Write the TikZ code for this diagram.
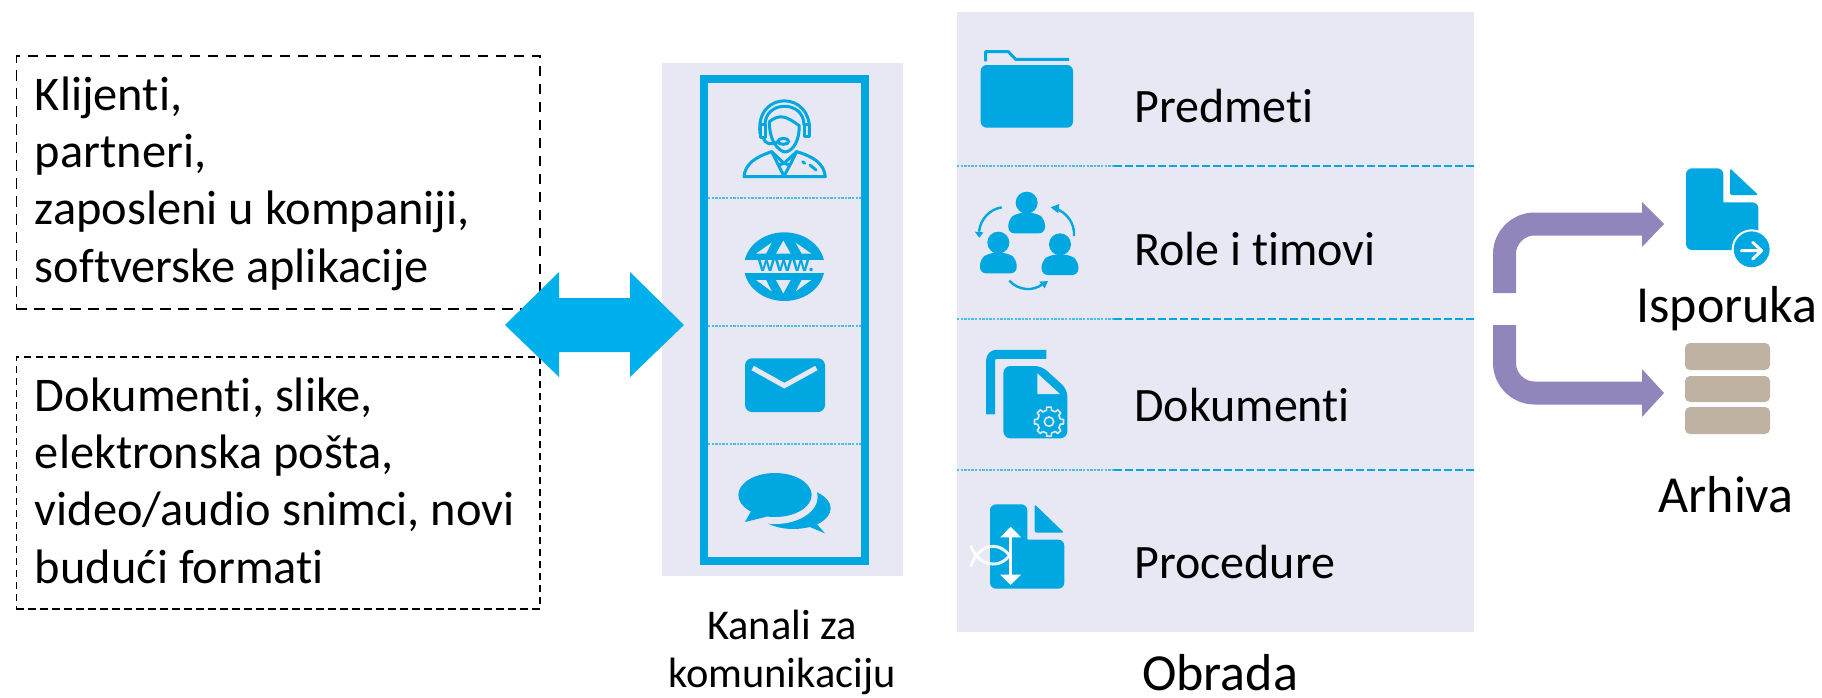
\documentclass[tikz,border=0pt]{standalone}
\usepackage{fontspec}
\setmainfont{Carlito}[Ligatures=CommonOff]
\definecolor{iconblue}{HTML}{00A7E1}
\definecolor{arrowblue}{HTML}{00B0EC}
\definecolor{panel}{HTML}{E8E8F4}
\definecolor{purplearrow}{HTML}{9285BC}
\definecolor{stonebar}{HTML}{BFB2A2}
\definecolor{dotblue}{HTML}{4DBCE8}
\tikzset{
  dashbox/.style={draw=black,line width=0.9pt,dash pattern=on 5.3pt off 3.7pt},
  dashboxfine/.style={draw=black,line width=0.9pt,dash pattern=on 3.7pt off 2.3pt},
  bigtext/.style={inner sep=0pt,anchor=north west,align=left,font=\fontsize{24.2}{28.6}\selectfont},
  rowtext/.style={inner sep=0pt,anchor=base west,font=\fontsize{24}{28}\selectfont},
  endtext/.style={inner sep=0pt,anchor=base,font=\fontsize{26}{30}\selectfont},
  smalltext/.style={inner sep=0pt,anchor=base,font=\fontsize{21.2}{25}\selectfont},
  dotline/.style={draw=dotblue,line width=1.2pt,dash pattern=on 1.2pt off 0.6pt},
  dashline/.style={draw=iconblue,line width=1.1pt,dash pattern=on 4pt off 1.5pt},
  iconline/.style={draw=iconblue,line width=1.5pt,line cap=round,line join=round},
  flow/.style={draw=purplearrow,line width=11.5pt,rounded corners=15pt},
  flowhead/.style={fill=purplearrow,draw=none},
  stack/.style={fill=stonebar,draw=none,rounded corners=2.5pt}
}
\begin{document}
\begin{tikzpicture}[x=0.5pt,y=-0.5pt]
\useasboundingbox (0,0) rectangle (1822,697);

% left boxes
\node[dashbox,minimum width=261.75pt,minimum height=126.5pt,inner sep=0pt,anchor=north west] (people) at (15.5,55) {};
\node[dashboxfine,minimum width=261.75pt,minimum height=126pt,inner sep=0pt,anchor=north west] (formats) at (15.5,356) {};
\node[bigtext] (peopletext) at (34.5,76.5) {Klijenti,\\partneri,\\zaposleni u kompaniji,\\softverske aplikacije};
\node[bigtext] (formatstext) at (34.5,377.5) {Dokumenti, slike,\\elektronska pošta,\\video/audio snimci, novi\\budući formati};

% panels
\node[fill=panel,minimum width=120.5pt,minimum height=256.5pt,inner sep=0pt,anchor=north west] (channels) at (662,63) {};
\node[fill=panel,minimum width=258.5pt,minimum height=310pt,inner sep=0pt,anchor=north west] (work) at (957,12) {};

% double arrow
\fill[arrowblue] (505,325) -- (559,272) -- (559,298) -- (630,298) -- (630,272) -- (684,325) -- (630,377) -- (630,352) -- (559,352) -- (559,377) -- cycle;

% channel frame
\draw[iconblue,line width=4pt] (704,79) rectangle (865,561);
\draw[dotline] (708,198) -- (861,198);
\draw[dotline] (708,326) -- (861,326);
\draw[dotline] (708,444) -- (861,444);

% agent icon
\begin{scope}[shift={(650,50)},scale=1/3]
  \draw[iconline] (330,250) .. controls (315,120) and (490,120) .. (478,250);
  \draw[iconline] (345,225) .. controls (345,150) and (462,150) .. (462,225);
  \draw[iconline] (358,215) .. controls (390,190) and (410,200) .. (445,225) (358,215) .. controls (358,290) and (400,310) .. (410,305) .. controls (430,300) and (450,270) .. (447,225);
  \draw[iconline] (332,222) rectangle (347,262);
  \draw[iconline] (462,222) rectangle (478,258);
  \draw[iconline] (340,262) .. controls (345,285) and (365,285) .. (385,275);
  \fill[panel,draw=iconblue,line width=1.5pt] (400,274) ellipse [x radius=16,y radius=9];
  \draw[iconline] (282,380) .. controls (285,340) and (320,320) .. (365,305) -- (402,340) -- (440,305) .. controls (490,320) and (522,340) .. (526,380) -- cycle;
  \draw[iconline] (365,305) -- (385,345) -- (402,378) -- (420,345) -- (440,305) (385,345) -- (402,340) -- (420,345);
  \draw[iconline] (458,335) -- (464,340) (480,345) -- (498,360);
\end{scope}

% globe icon
\begin{scope}[shift={(650,50)},scale=1/3]
  \begin{scope}
    \clip (270,540) rectangle (540,629);
    \fill[iconblue] (403,650) ellipse [x radius=121,y radius=103];
  \end{scope}
  \begin{scope}
    \clip (270,671) rectangle (540,760);
    \fill[iconblue] (403,650) ellipse [x radius=121,y radius=103];
  \end{scope}
  \fill[panel] (400,572) -- (378,611) -- (422,611) -- cycle;
  \fill[panel] (365,578) -- (318,611) -- (348,611) -- cycle;
  \fill[panel] (437,578) -- (484,611) -- (455,611) -- cycle;
  \fill[panel] (400,730) -- (378,690) -- (422,690) -- cycle;
  \fill[panel] (365,724) -- (318,690) -- (348,690) -- cycle;
  \fill[panel] (437,724) -- (484,690) -- (455,690) -- cycle;
  \node[inner sep=0pt,text=iconblue,font=\fontsize{11.5}{12}\bfseries\selectfont] (www) at (408,648) {www.};
\end{scope}

% envelope and chat icons
\begin{scope}[shift={(650,320)},scale=1/3]
  \fill[iconblue,rounded corners=3.5pt] (285,115) rectangle (525,276);
  \draw[panel,line width=2.5pt,miter limit=10] (308,144) -- (403,197) -- (499,144);
  \fill[iconblue] (430,565) ellipse [x radius=112,y radius=62];
  \fill[iconblue] (465,615) -- (525,640) -- (490,600) -- cycle;
  \fill[panel] (375,530) ellipse [x radius=128,y radius=82];
  \fill[iconblue] (375,525) ellipse [x radius=110,y radius=66];
  \fill[iconblue] (305,570) -- (285,606) -- (350,590) -- cycle;
\end{scope}

% work rows
\draw[dotline] (957,166) -- (1114,166);
\draw[dashline] (1114,166) -- (1474,166);
\draw[dotline] (957,319) -- (1114,319);
\draw[dashline] (1114,319) -- (1474,319);
\draw[dotline] (957,470) -- (1114,470);
\draw[dashline] (1114,470) -- (1474,470);

% folder icon, team icon
\begin{scope}[shift={(950,20)},scale=1/3]
  \fill[iconblue,rounded corners=3pt] (92,135) rectangle (369,323);
  \draw[iconblue,line width=1.5pt,line join=round] (107,124) -- (107,95) -- (175,95) -- (197,118) -- (357,118);
  \foreach \hx/\hy in {230/548,145/668,330/673}{
    \fill[iconblue] (\hx,\hy) circle [radius=33];
    \fill[iconblue,rounded corners=3pt] (\hx-55,\hy+92) -- (\hx-55,\hy+50) -- (\hx-30,\hy+31) -- (\hx+30,\hy+31) -- (\hx+55,\hy+50) -- (\hx+55,\hy+92) -- cycle;
  }
  \draw[iconblue,line width=1.2pt] (155,562) .. controls (120,568) and (92,595) .. (87,635);
  \fill[iconblue] (74,635) -- (100,637) -- (88,653) -- cycle;
  \draw[iconblue,line width=1.2pt] (372,648) .. controls (375,610) and (350,578) .. (318,566);
  \fill[iconblue] (302,562) -- (328,552) -- (325,580) -- cycle;
  \draw[iconblue,line width=1.2pt] (178,782) .. controls (205,812) and (250,815) .. (278,792);
  \fill[iconblue] (294,783) -- (268,785) -- (284,805) -- cycle;
\end{scope}

% settings document icon, procedure document icon
\begin{scope}[shift={(950,320)},scale=1/3]
  \draw[iconblue,line width=4.5pt,rounded corners=3pt] (122,283) -- (122,103) -- (289,103);
  \fill[iconblue,rounded corners=3.5pt] (160,138) -- (275,138) -- (352,208) -- (352,355) -- (160,355) -- cycle;
  \fill[panel] (262,160) -- (262,222) -- (330,222) -- cycle;
  \foreach \a in {0,45,...,315}{
    \draw[panel,line width=0.8pt,line join=round] ([shift={(\a-12:35)}]297,305) -- ([shift={(\a-9:44)}]297,305) -- ([shift={(\a+9:44)}]297,305) -- ([shift={(\a+12:35)}]297,305) arc [start angle=\a+12,end angle=\a+33,radius=35];
  }
  \draw[panel,line width=0.8pt] (297,305) circle [radius=14];

  \fill[iconblue,rounded corners=3pt] (120,553) -- (232,553) -- (232,645) .. controls (232,655) and (238,659) .. (245,659) -- (343,659) -- (343,806) -- (120,806) -- cycle;
  \fill[iconblue,rounded corners=1pt] (254,553) -- (342,638) -- (254,638) -- cycle;
  \draw[white,line width=1.5pt] (182,640) -- (182,775);
  \fill[white] (182,620) -- (151,652) -- (213,652) -- cycle;
  \fill[white] (182,795) -- (151,764) -- (213,764) -- cycle;
  \draw[white,line width=1.5pt,opacity=0.9] (62,676) .. controls (85,740) and (150,750) .. (182,702);
  \draw[white,line width=1.5pt,opacity=0.9] (62,740) .. controls (85,670) and (150,660) .. (182,712);
\end{scope}

% row labels
\node[rowtext] (rowa) at (1134,122) {Predmeti};
\node[rowtext] (rowb) at (1134,265) {Role i timovi};
\node[rowtext] (rowc) at (1134,421) {Dokumenti};
\node[rowtext] (rowd) at (1134,578) {Procedure};

% captions
\node[smalltext] (capa) at (782,639) {Kanali za};
\node[smalltext] (capb) at (782,687) {komunikaciju};
\node[endtext] (capc) at (1220,690) {Obrada};

% routing arrows
\draw[flow] (1504.5,293) -- (1504.5,224) -- (1644,224);
\fill[flowhead] (1642,202) -- (1664,224) -- (1642,247) -- cycle;
\draw[flow] (1504.5,325) -- (1504.5,393) -- (1644,393);
\fill[flowhead] (1642,369) -- (1664,393) -- (1642,417) -- cycle;

% delivery icon
\begin{scope}[shift={(1480,150)},scale=1/3]
  \fill[iconblue,rounded corners=3pt] (618,55) -- (730,55) -- (730,145) .. controls (730,152) and (734,157) .. (742,157) -- (835,157) -- (835,300) -- (618,300) -- cycle;
  \fill[iconblue,rounded corners=1pt] (750,55) -- (835,135) -- (750,135) -- cycle;
  \fill[iconblue,draw=white,line width=1pt] (815,298) circle [radius=57];
  \draw[white,line width=1.5pt,line join=round,line cap=round] (784,302) -- (845,302) (818,277) -- (845,302) -- (818,327);
\end{scope}

% archive icon
\fill[stack] (1685,343) rectangle (1770,370);
\fill[stack] (1685,376) rectangle (1770,402);
\fill[stack] (1685,407) rectangle (1770,434);

\node[endtext] (deliver) at (1727,322) {Isporuka};
\node[endtext] (archive) at (1726,512) {Arhiva};
\end{tikzpicture}
\end{document}
